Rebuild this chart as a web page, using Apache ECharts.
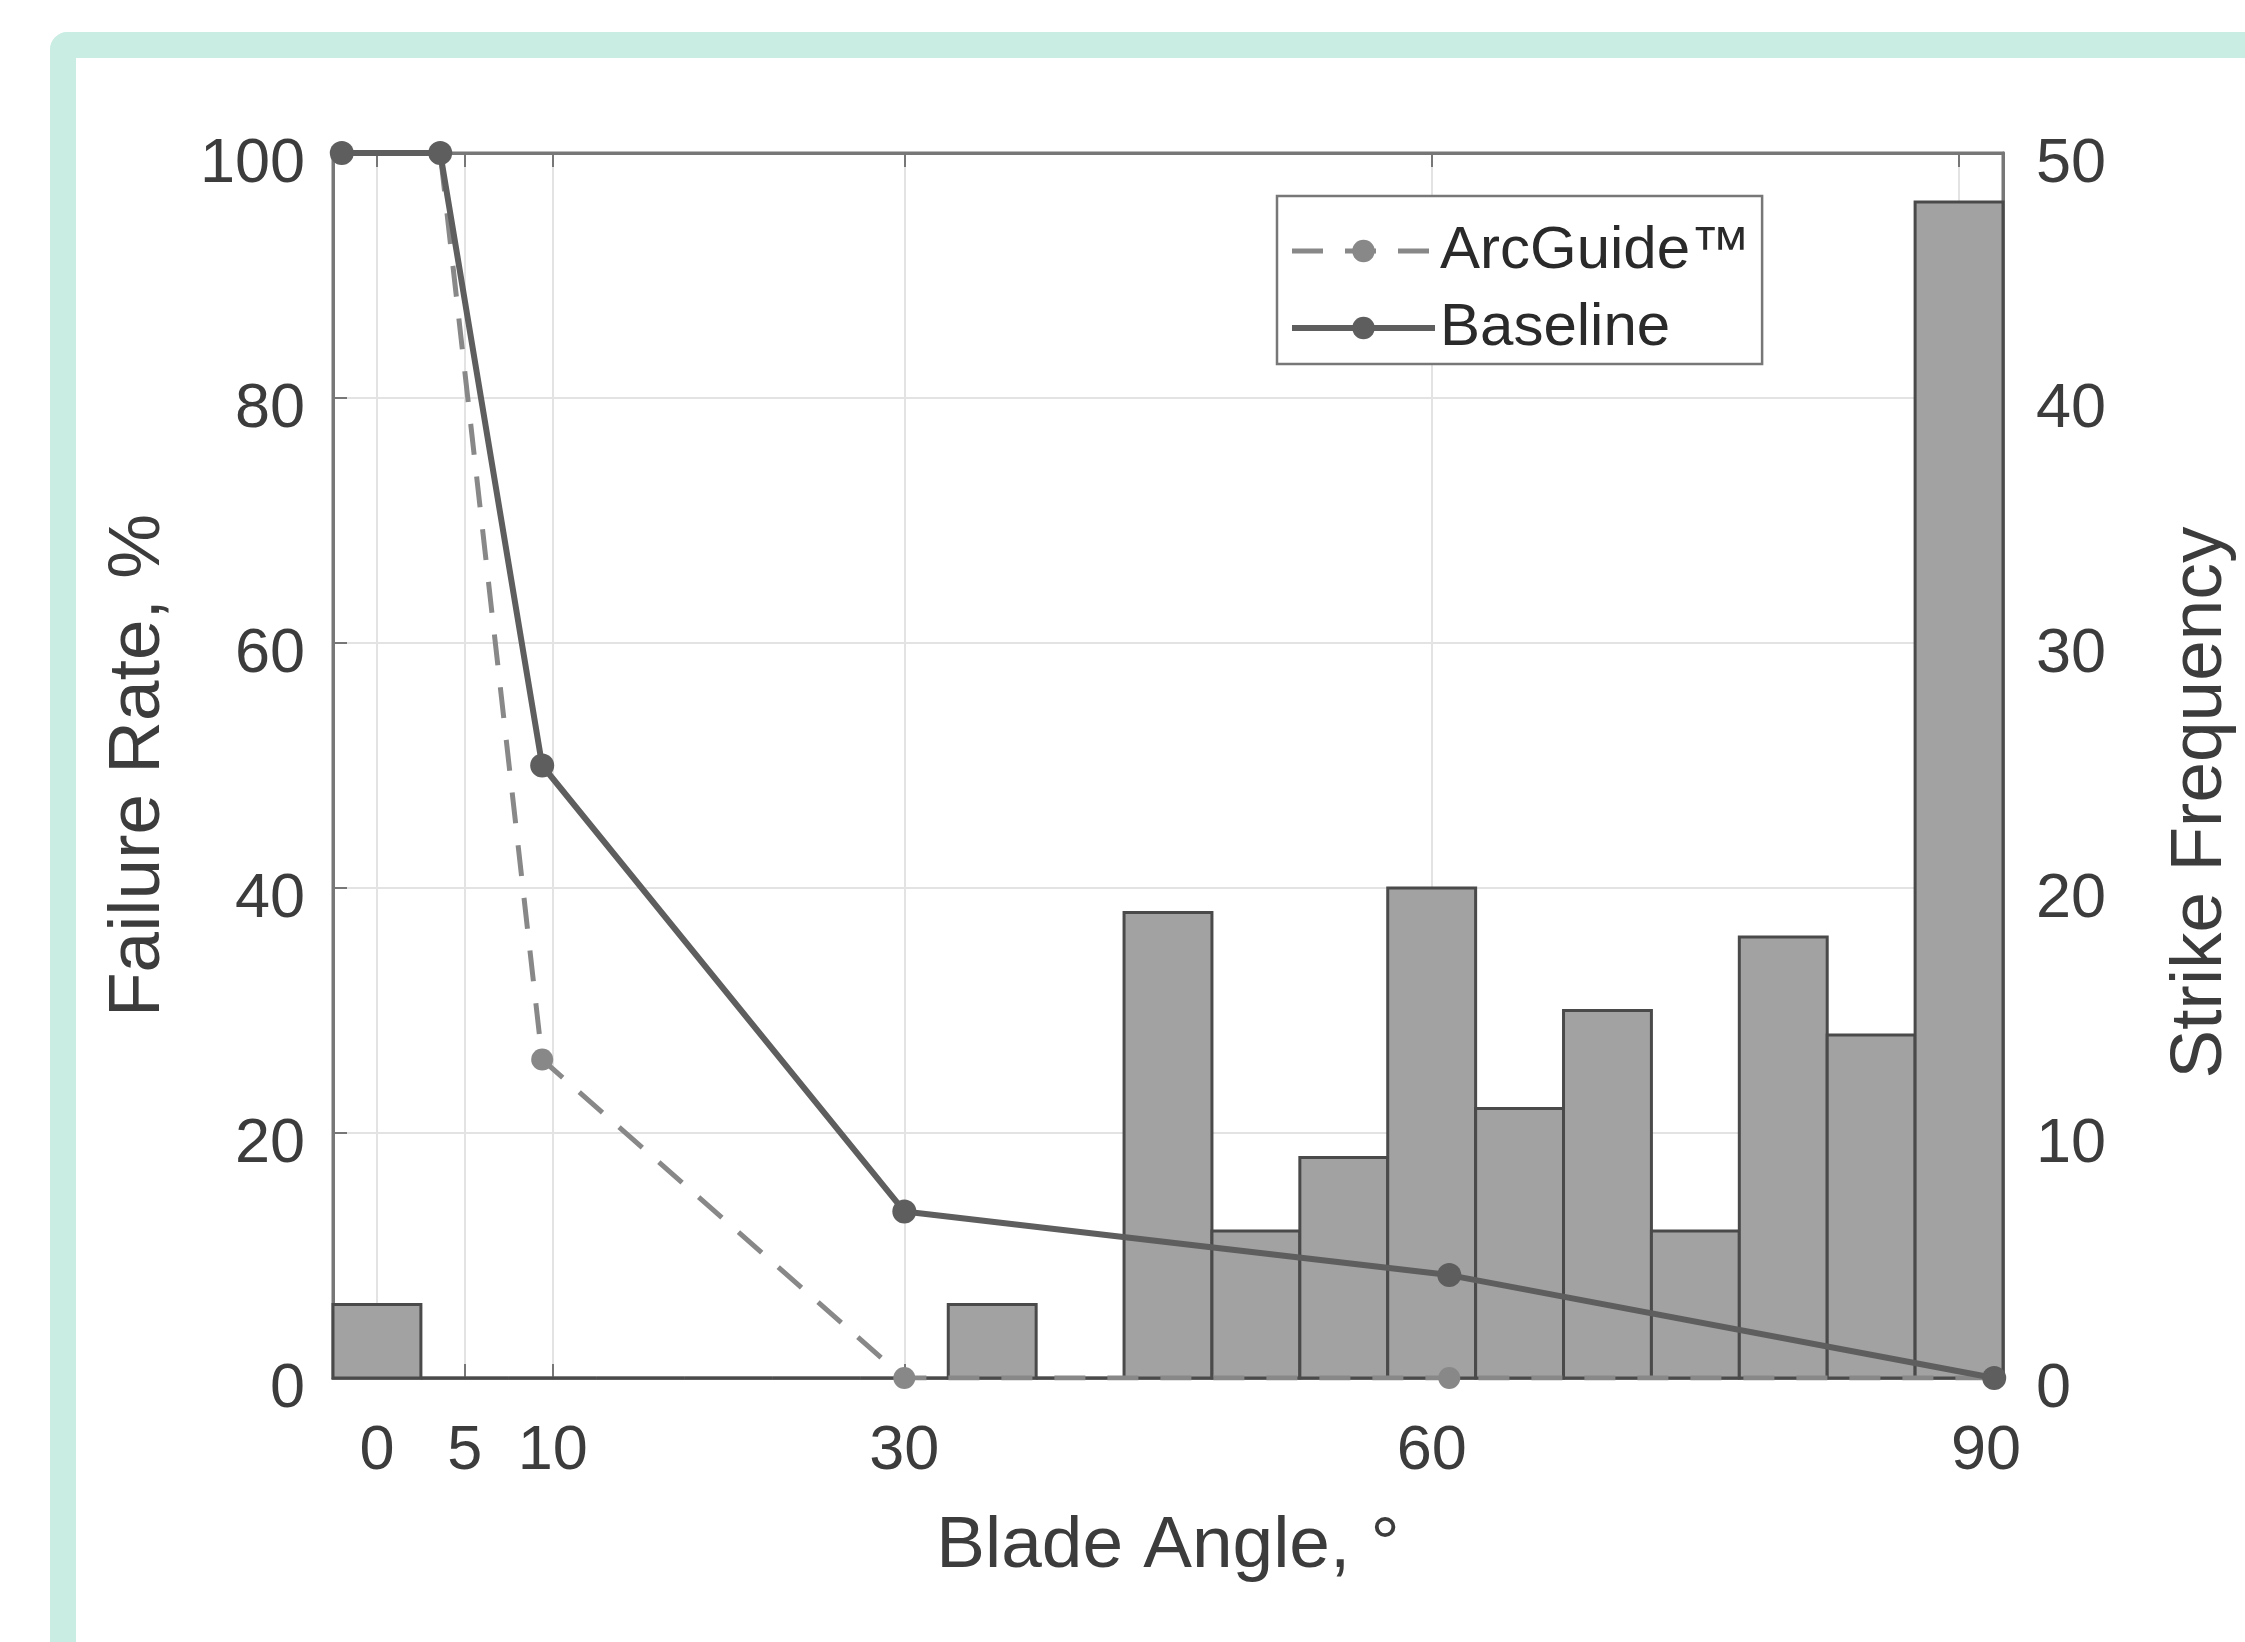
<!DOCTYPE html>
<html>
<head>
<meta charset="utf-8">
<title>Blade Angle</title>
<script src="https://cdn.jsdelivr.net/npm/echarts@6/dist/echarts.min.js"></script>
<style>
  html, body { margin: 0; padding: 0; background: #fff; overflow: hidden; }
  /* teal card edge, only top/left visible in the picture */
  .frame {
    position: absolute; left: 50px; top: 32px; width: 2300px; height: 1700px;
    box-sizing: border-box;
    border-left: 26px solid #c9ede2; border-top: 26px solid #c9ede2;
    border-top-left-radius: 18px;
  }
  #chart { position: absolute; left: 0; top: 0; width: 2245px; height: 1642px; }
</style>
</head>
<body>
<div class="frame"></div>
<div id="chart"></div>
<script>
// histogram: 5 degree bins, centers + counts (right axis)
const binCenters = [0, 5, 10, 15, 20, 25, 30, 35, 40, 45, 50, 55, 60, 65, 70, 75, 80, 85, 90]
const strikeCounts = [3, 0, 0, 0, 0, 0, 0, 3, 0, 19, 6, 9, 20, 11, 15, 6, 18, 14, 48]
const binWidth = 5

// failure rate curves (left axis), x
const lineAngles = [-2, 3.6, 9.4, 30, 61, 92]
const arcGuideRate = [100, 100, 26, 0, 0, 0]
const baselineRate = [100, 100, 50, 13.6, 8.4, 0]

const angleTicks = [0, 5, 10, 30, 60, 90]

const font = "'Liberation Sans', Arial, Helvetica, sans-serif"
const axisGray = '#777777'
const txtGray = '#3c3c3c'
const gridGray = '#e3e3e3'

// y labels in the source sit a bit below their gridlines
const yLabel = (margin) => ({
  fontSize: 63, color: txtGray, margin,
  formatter: '{v|{value}}',
  rich: { v: { fontSize: 63, color: txtGray, padding: [24, 0, 0, 0] } }
})

const chart = echarts.init(document.getElementById('chart'))

const option = {
  animation: false,
  textStyle: { fontFamily: font },
  grid: {
    left: 333, right: 242, top: 153, bottom: 264,
    outerBoundsMode: 'none',
    show: true, borderColor: axisGray, borderWidth: 3
  },
  legend: {
    data: [
      { name: 'ArcGuide™', lineStyle: { width: 5 } },
      { name: 'Baseline', lineStyle: { width: 6 } }
    ],
    orient: 'vertical',
    left: 1277, top: 196,
    padding: [25, 12, 6, 12],
    itemGap: 17,
    itemWidth: 143, itemHeight: 28,
    backgroundColor: '#fff',
    borderColor: axisGray, borderWidth: 2.5,
    textStyle: { fontSize: 60, color: '#2a2a2a', fontFamily: font }
  },
  xAxis: [
    {
      type: 'value', min: -2.5, max: 92.5,
      name: 'Blade Angle, °', nameLocation: 'middle', nameGap: 132,
      nameTextStyle: { fontSize: 73, color: txtGray, fontFamily: font },
      axisLine: { show: true, onZero: false, lineStyle: { color: axisGray, width: 3 } },
      axisTick: { show: true, inside: true, length: 14, customValues: angleTicks,
        lineStyle: { color: axisGray, width: 2 } },
      axisLabel: {
        customValues: angleTicks, fontSize: 63, color: txtGray, margin: 42,
        formatter: (v) => (v === 90 ? '{r|' + v + '}' : String(v)),
        rich: { r: { fontSize: 63, color: txtGray, padding: [0, 0, 0, 54] } }
      },
      splitLine: { show: true, lineStyle: { color: gridGray, width: 2 } }
    },
    {
      // top edge ticks (box)
      type: 'value', min: -2.5, max: 92.5, position: 'top',
      axisLine: { show: true, onZero: false, lineStyle: { color: axisGray, width: 3 } },
      axisTick: { show: true, inside: true, length: 14, customValues: angleTicks,
        lineStyle: { color: axisGray, width: 2 } },
      axisLabel: { show: false },
      splitLine: { show: false }
    }
  ],
  yAxis: [
    {
      type: 'value', min: 0, max: 100, interval: 20, position: 'left',
      name: 'Failure Rate, %', nameLocation: 'middle', nameGap: 158, nameRotate: 90,
      nameTextStyle: { fontSize: 73, color: txtGray, fontFamily: font },
      axisLine: { show: true, onZero: false, lineStyle: { color: axisGray, width: 3 } },
      axisTick: { show: true, inside: true, length: 14, lineStyle: { color: axisGray, width: 2 } },
      axisLabel: yLabel(28),
      splitLine: { show: true, lineStyle: { color: gridGray, width: 2 } }
    },
    {
      type: 'value', min: 0, max: 50, interval: 10, position: 'right',
      name: 'Strike Frequency', nameLocation: 'middle', nameGap: 161, nameRotate: 90,
      nameTextStyle: { fontSize: 73, color: txtGray, fontFamily: font, padding: [0, 74, 0, 0] },
      axisLine: { show: true, onZero: false, lineStyle: { color: axisGray, width: 3 } },
      axisTick: { show: true, inside: true, length: 14, lineStyle: { color: axisGray, width: 2 } },
      axisLabel: yLabel(33),
      splitLine: { show: false }
    }
  ],
  series: [
    {
      name: 'Strike Frequency',
      type: 'custom',
      yAxisIndex: 1,
      data: binCenters.map((c, i) => [c, strikeCounts[i]]),
      encode: { x: 0, y: 1 },
      renderItem: (params, api) => {
        const topLeft = api.coord([api.value(0) - binWidth / 2, api.value(1)])
        const botRight = api.coord([api.value(0) + binWidth / 2, 0])
        return {
          type: 'rect',
          shape: {
            x: topLeft[0], y: topLeft[1],
            width: botRight[0] - topLeft[0], height: botRight[1] - topLeft[1]
          },
          style: { fill: '#a2a2a2', stroke: '#4a4a4a', lineWidth: 3 }
        }
      },
      z: 1
    },
    {
      name: 'ArcGuide™',
      type: 'line',
      data: lineAngles.map((a, i) => [a, arcGuideRate[i]]),
      symbol: 'circle', symbolSize: 22,
      lineStyle: { color: '#888888', width: 5, type: [31, 22] },
      itemStyle: { color: '#888888' },
      z: 3
    },
    {
      name: 'Baseline',
      type: 'line',
      data: lineAngles.map((a, i) => [a, baselineRate[i]]),
      symbol: 'circle', symbolSize: 24,
      lineStyle: { color: '#5e5e5e', width: 6 },
      itemStyle: { color: '#5e5e5e' },
      z: 4
    }
  ]
}

chart.setOption(option)
</script>
</body>
</html>
